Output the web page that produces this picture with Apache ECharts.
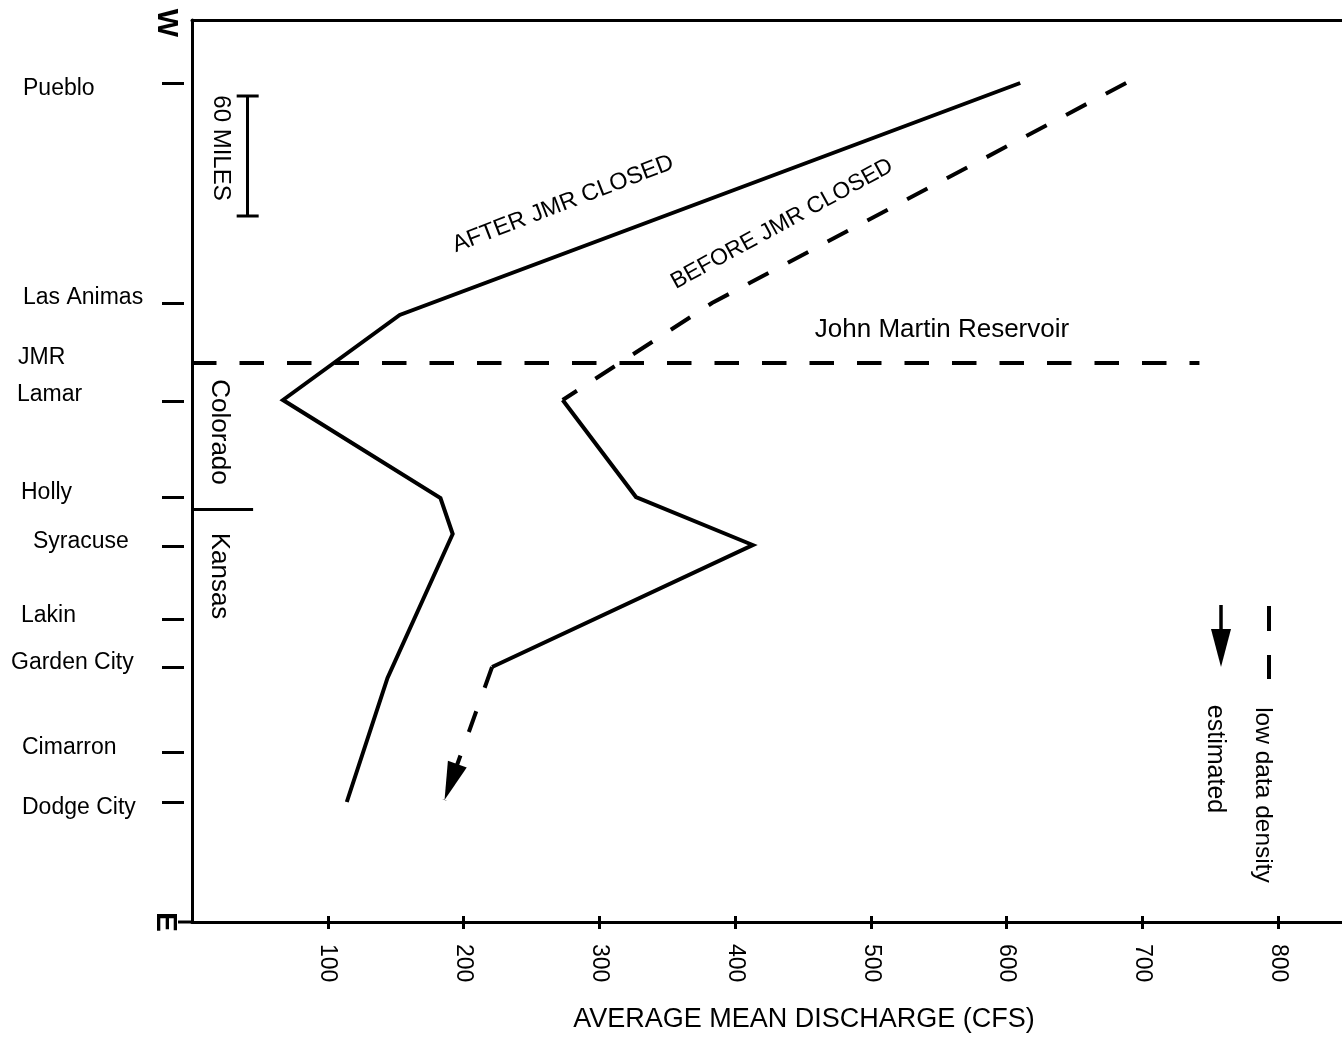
<!DOCTYPE html>
<html>
<head>
<meta charset="utf-8">
<script src="https://cdn.jsdelivr.net/npm/echarts@6/dist/echarts.min.js"></script>
<style>
html,body{margin:0;padding:0;background:#fff;}
#chart{width:1342px;height:1037px;}
</style>
</head>
<body>
<div id="chart"></div>
<script>
// ---------------- DATA ----------------
// Stations along the Arkansas River, miles downstream of Pueblo (read with the 60-mile scale bar)
const stations     = ['Pueblo','Las Animas','JMR','Lamar','Holly','Syracuse','Lakin','Garden City','Cimarron','Dodge City'];
const stationMiles = [0, 110, 140, 159, 207, 231.5, 268, 292, 334.5, 359.5];
const tickedStations = ['Pueblo','Las Animas','Lamar','Holly','Syracuse','Lakin','Garden City','Cimarron','Dodge City'];

// Discharge axis tick labels (CFS)
const dischargeTicks = [100, 200, 300, 400, 500, 600, 700, 800];

// AFTER JMR CLOSED (solid line)
const afterMiles = [0, 116, 158.5, 207.5, 225.5, 297.5, 359.5];
const afterCfs   = [610, 153, 67, 183, 192, 144, 114];

// BEFORE JMR CLOSED
// points 0-2: low data density (dashed); 2-5: observed (solid); 5-6: estimated (dashed arrow)
const beforeMiles = [0, 110, 158.5, 207, 231, 292, 358.5];
const beforeCfs   = [688, 383, 273, 327, 413, 221, 186];

// Annotation lines
const jmrLineEndCfs   = 742;          // John Martin Reservoir line extent
const stateLineMile   = 213;          // Colorado / Kansas border
const stateLineEndCfs = 45;
const scaleBarMiles   = [6.5, 66.5];  // 60 miles
const scaleBarCfs     = 41;

// ---------------- STYLE ----------------
const FONT = '"Liberation Sans", Arial, Helvetica, sans-serif';
const BLACK = '#000';
// per-label padding [top, right, bottom, left] (visual offsets of the hand-set station labels)
const stationLabelPad = {
  'Pueblo':      [12, 0, 0, 13],
  'Las Animas':  [0, 0, 10, 13],
  'JMR':         [0, 0, 10, 8],
  'Lamar':       [0, 0, 12, 7],
  'Holly':       [0, 0, 8, 11],
  'Syracuse':    [0, 0, 8, 23],
  'Lakin':       [0, 0, 6, 11],
  'Garden City': [0, 0, 8, 1],
  'Cimarron':    [0, 0, 8, 12],
  'Dodge City':  [12, 0, 0, 12]
};

function pts(q, m, from, to) {
  const out = [];
  for (let i = from; i <= to; i++) out.push([q[i], m[i]]);
  return out;
}

const rich = {};
stations.forEach((s, i) => {
  rich['s' + i] = {fontSize: 23, fontFamily: FONT, color: BLACK, padding: stationLabelPad[s]};
});

const tickMiles = tickedStations.map(n => stationMiles[stations.indexOf(n)]);

const X_MIN = 0, X_MAX = 847, Y_MIN = -31.5, Y_MAX = 419.5;
const axisLineStyle = {color: BLACK, width: 3};
const DATA_W = 4;

const chart = echarts.init(document.getElementById('chart'), null, {renderer: 'canvas'});

function rotText(text, x, y, size, rot, weight) {
  return {
    type: 'text', x: x, y: y, rotation: rot, silent: true,
    style: {
      text: text, fill: BLACK,
      font: (weight || 'normal') + ' ' + size + 'px ' + FONT,
      align: 'center', verticalAlign: 'middle',
      textAlign: 'center', textVerticalAlign: 'middle'
    }
  };
}

const option = {
  animation: false,
  backgroundColor: '#fff',
  textStyle: {fontFamily: FONT, color: BLACK},
  grid: {left: 192, right: 0, top: 20, bottom: 115, containLabel: false, outerBoundsMode: 'none'},
  xAxis: [
    {
      type: 'value', position: 'bottom', min: X_MIN, max: X_MAX,
      axisLine: {show: true, onZero: false, lineStyle: axisLineStyle},
      axisTick: {show: true, customValues: dischargeTicks, length: 7, inside: false, lineStyle: axisLineStyle},
      axisLabel: {customValues: dischargeTicks, rotate: -90, margin: 22, color: BLACK,
                  fontSize: 23, fontFamily: FONT, hideOverlap: false},
      splitLine: {show: false},
      name: 'AVERAGE MEAN DISCHARGE (CFS)', nameLocation: 'middle', nameGap: 84, nameMoveOverlap: false,
      nameTextStyle: {fontSize: 27, fontFamily: FONT, color: BLACK, padding: [0, 0, 0, 74]}
    },
    {
      type: 'value', position: 'bottom', min: X_MIN, max: X_MAX,
      axisLine: {show: false, onZero: false},
      axisTick: {show: true, customValues: dischargeTicks, length: 6, inside: true, lineStyle: axisLineStyle},
      axisLabel: {show: false}, splitLine: {show: false}
    },
    {
      type: 'value', position: 'top', min: X_MIN, max: X_MAX,
      axisLine: {show: true, onZero: false, lineStyle: axisLineStyle},
      axisTick: {show: false}, axisLabel: {show: false}, splitLine: {show: false}
    }
  ],
  yAxis: [
    {
      type: 'value', inverse: true, min: Y_MIN, max: Y_MAX, position: 'left',
      axisLine: {show: true, onZero: false, lineStyle: axisLineStyle},
      axisTick: {show: false}, axisLabel: {show: false}, splitLine: {show: false}
    },
    {
      type: 'value', inverse: true, min: Y_MIN, max: Y_MAX, position: 'left', offset: 8,
      axisLine: {show: false, onZero: false},
      axisTick: {show: true, customValues: tickMiles, length: 22, lineStyle: axisLineStyle},
      axisLabel: {
        customValues: stationMiles, align: 'left', margin: 174, hideOverlap: false,
        formatter: function (v) {
          let best = -1, d = 1e9;
          stationMiles.forEach((m, i) => { if (Math.abs(m - v) < d) { d = Math.abs(m - v); best = i; } });
          return d < 0.01 ? '{s' + best + '|' + stations[best] + '}' : '';
        },
        rich: rich
      },
      splitLine: {show: false}
    }
  ],
  series: [
    {
      name: 'AFTER JMR CLOSED', type: 'line', silent: true,
      data: pts(afterCfs, afterMiles, 0, afterCfs.length - 1),
      symbol: 'none', showSymbol: false,
      lineStyle: {color: BLACK, width: DATA_W, join: 'miter'},
      markLine: {
        silent: true, animation: false, label: {show: false}, symbol: ['none', 'none'],
        data: [
          [ {coord: [X_MIN, stationMiles[2]], symbol: 'none', lineStyle: {color: BLACK, width: DATA_W, type: [24.5, 23]}},
            {coord: [jmrLineEndCfs, stationMiles[2]], symbol: 'none'} ],
          [ {coord: [X_MIN, stateLineMile], symbol: 'none', lineStyle: {color: BLACK, width: 3, type: 'solid'}},
            {coord: [stateLineEndCfs, stateLineMile], symbol: 'none'} ],
          [ {coord: [scaleBarCfs, scaleBarMiles[0]], symbol: 'rect', symbolSize: [22, 3], lineStyle: {color: BLACK, width: 3, type: 'solid'}},
            {coord: [scaleBarCfs, scaleBarMiles[1]], symbol: 'rect', symbolSize: [22, 3]} ]
        ]
      }
    },
    {
      name: 'BEFORE JMR CLOSED (low data density)', type: 'line', silent: true,
      data: pts(beforeCfs, beforeMiles, 0, 2),
      symbol: 'none', showSymbol: false,
      lineStyle: {color: BLACK, width: DATA_W, type: [23, 22], join: 'miter'}
    },
    {
      name: 'BEFORE JMR CLOSED', type: 'line', silent: true,
      data: pts(beforeCfs, beforeMiles, 2, 5),
      symbol: 'none', showSymbol: false,
      lineStyle: {color: BLACK, width: DATA_W, join: 'miter'},
      markLine: {
        silent: true, animation: false, label: {show: false}, symbol: ['none', 'none'],
        lineStyle: {color: BLACK, width: DATA_W, type: [22, 25]},
        data: [
          [ {coord: [beforeCfs[5], beforeMiles[5]], symbol: 'none'},
            {coord: [beforeCfs[6], beforeMiles[6]], symbol: 'triangle', symbolSize: [20, 38], symbolOffset: [0, 19]} ]
        ]
      }
    }
  ],
  graphic: {
    elements: [
      rotText('W', 166, 23, 30, -Math.PI / 2, 'bold'),
      rotText('E', 165, 922, 30, -Math.PI / 2, 'bold'),
      {type: 'line', silent: true, shape: {x1: 178, y1: 922, x2: 193, y2: 922}, style: {stroke: BLACK, lineWidth: 3}},
      rotText('60 MILES', 221, 148, 24, -Math.PI / 2),
      rotText('Colorado', 219, 432, 26, -Math.PI / 2),
      rotText('Kansas', 219, 576, 26, -Math.PI / 2),
      rotText('John Martin Reservoir', 942, 330, 26, 0),
      rotText('AFTER JMR CLOSED', 563, 204, 23.5, 0.368),
      rotText('BEFORE JMR CLOSED', 782, 224, 23, 0.499),
      // legend
      {type: 'line', silent: true, shape: {x1: 1221, y1: 605, x2: 1221, y2: 632}, style: {stroke: BLACK, lineWidth: 3.5}},
      {type: 'polygon', silent: true, shape: {points: [[1211, 629], [1231, 629], [1221, 667]]}, style: {fill: BLACK}},
      {type: 'line', silent: true, shape: {x1: 1269, y1: 606, x2: 1269, y2: 631}, style: {stroke: BLACK, lineWidth: 4}},
      {type: 'line', silent: true, shape: {x1: 1269, y1: 655, x2: 1269, y2: 679}, style: {stroke: BLACK, lineWidth: 4}},
      rotText('estimated', 1215, 759, 25, -Math.PI / 2),
      rotText('low data density', 1263, 795, 24.5, -Math.PI / 2)
    ]
  }
};

chart.setOption(option);
</script>
</body>
</html>
